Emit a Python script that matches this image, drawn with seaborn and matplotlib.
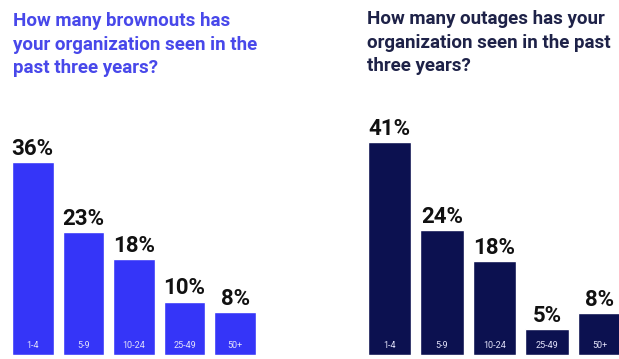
import matplotlib
matplotlib.use("Agg")
import matplotlib.pyplot as plt
import seaborn as sns
import pandas as pd

sns.set_theme(style="white")
plt.rcParams['font.family'] = ['Roboto', 'DejaVu Sans']

categories = ["1-4", "5-9", "10-24", "25-49", "50+"]
brownouts = [36, 23, 18, 10, 8]
outages = [41, 24, 18, 5, 8]
title_left = "How many brownouts has\nyour organization seen in the\npast three years?"
title_right = "How many outages has your\norganization seen in the past\nthree years?"

W, H = 619, 359
fig = plt.figure(figsize=(W / 100, H / 100), dpi=100)

def px_axes(x0, x1, ybottom, height):
    return fig.add_axes([x0 / W, (H - ybottom) / H, (x1 - x0) / W, height / H])

axes_h = 230
panels = [
    dict(vals=brownouts, color="#3535F8", x0=12, x1=256, scale=5.35,
         title=title_left, tcolor="#4848EA", tx=13, ty=12),
    dict(vals=outages, color="#0C1150", x0=368, x1=621, scale=5.2,
         title=title_right, tcolor="#1E2248", tx=367, ty=10),
]

for p in panels:
    ax = px_axes(p["x0"], p["x1"], 355, axes_h)
    df = pd.DataFrame({"cat": categories, "val": p["vals"]})
    sns.barplot(data=df, x="cat", y="val", color=p["color"], saturation=1,
                width=0.82, ax=ax, order=categories)
    ax.set_xlim(-0.41, 4.41)
    ax.set_ylim(0, axes_h / p["scale"])
    for c in ax.containers:
        ax.bar_label(c, labels=[f"{v}%" for v in p["vals"]], padding=1.5,
                     fontsize=16, fontweight="bold", color="#111111")
    ax.set_xlabel("")
    ax.set_ylabel("")
    ax.set_yticks([])
    ax.set_axisbelow(False)
    ax.tick_params(axis="x", length=0, pad=-10, labelsize=6.5, labelcolor="#E2E2FA")
    for s in ax.spines.values():
        s.set_visible(False)
    ax.patch.set_alpha(0)
    fig.text(p["tx"] / W, 1 - p["ty"] / H, p["title"], ha="left", va="top",
             fontsize=13.5, fontweight="semibold", color=p["tcolor"], linespacing=1.4)

fig.savefig("out.png", dpi=100)
